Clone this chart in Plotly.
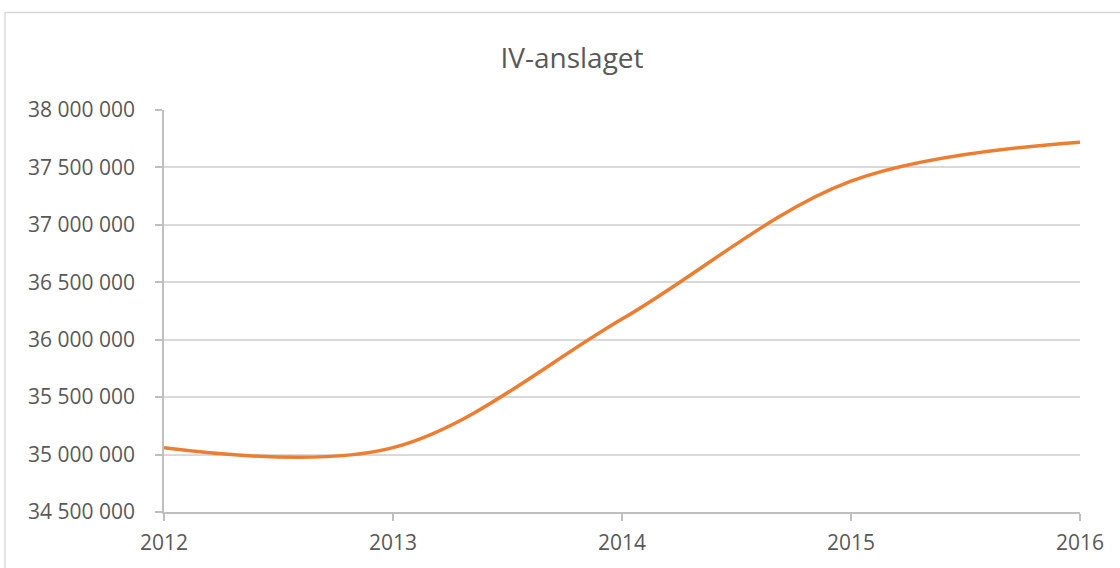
import plotly.graph_objects as go

years = [2012, 2013, 2014, 2015, 2016]
values = [35060000, 35060000, 36180000, 37380000, 37720000]
title_text = "IV-anslaget"

W, H = 1120, 568
L, R, T, B = 164, 40, 110, 54
plot_w = W - L - R
plot_h = H - T - B

fig = go.Figure()
fig.add_trace(go.Scatter(
    x=years, y=values, mode="lines",
    line=dict(color="#ED7D31", width=3.5, shape="spline", smoothing=1),
    hoverinfo="skip", showlegend=False,
))

font_family = "Open Sans, Liberation Sans, sans-serif"
fig.update_layout(
    width=W, height=H,
    margin=dict(l=L, r=R, t=T, b=B),
    paper_bgcolor="white", plot_bgcolor="white",
    separators=", ",
    title=dict(text=title_text, x=572 / W, xanchor="center", y=1 - 58 / H, yanchor="middle",
               font=dict(family=font_family, size=28, color="#595959")),
    font=dict(family=font_family, size=21, color="#595959"),
    showlegend=False,
)
fig.update_xaxes(
    range=[2012, 2016], tickvals=years, ticktext=[str(y) for y in years],
    showgrid=False, zeroline=False,
    showline=True, linecolor="#BFBFBF", linewidth=1.5,
    ticks="outside", ticklen=7, tickcolor="#BFBFBF", tickwidth=1.5,
    ticklabelstandoff=4,
    tickfont=dict(size=21, color="#595959"),
)
fig.update_yaxes(
    range=[34500000, 38000000], dtick=500000, tick0=34500000, tickformat=",d",
    showgrid=True, gridcolor="#D9D9D9", gridwidth=1.5, zeroline=False,
    showline=True, linecolor="#BFBFBF", linewidth=1.5,
    ticks="outside", ticklen=7, tickcolor="#BFBFBF", tickwidth=1.5,
    ticklabelstandoff=16,
    tickfont=dict(size=21, color="#595959"),
)
# outer chart border (like the spreadsheet chart frame)
fig.add_shape(type="rect", xref="paper", yref="paper",
              x0=(5 - L) / plot_w, x1=(1130 - L) / plot_w,
              y0=(H - B - 580) / plot_h, y1=(H - B - 12) / plot_h,
              line=dict(color="#D9D9D9", width=1.5), fillcolor="rgba(0,0,0,0)", layer="below")

fig.write_html(
    "out.html",
    config={"displayModeBar": False},
    post_script="document.body.style.margin='0';document.body.style.overflow='hidden';",
)
